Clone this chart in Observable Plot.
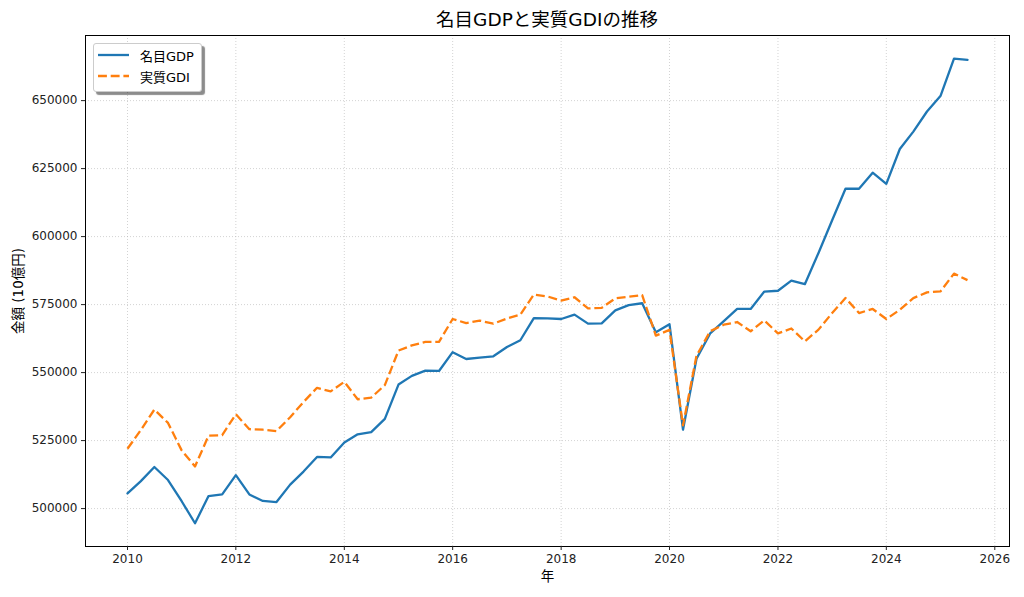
<!DOCTYPE html>
<html>
<head>
<meta charset="utf-8">
<script src="https://cdn.jsdelivr.net/npm/d3@7"></script>
<script src="https://cdn.jsdelivr.net/npm/@observablehq/plot@0.6"></script>
<style>
  body { margin: 0; background: #fff; font-family: "DejaVu Sans", "Noto Sans CJK JP", sans-serif; }
  #wrap { position: relative; width: 1024px; height: 597px; overflow: hidden; }
  #title { height: 30px; line-height: 30px; box-sizing: border-box; padding-left: 85px; padding-right: 15px;
           text-align: center; font-size: 18.5px; color: #000; }
  #title span { position: relative; top: 5px; }
  #legend { position: absolute; left: 93px; top: 43px; width: 109px; height: 49px; box-sizing: border-box;
            background: #fff; border: 1px solid #cccccc; border-radius: 3px; box-shadow: 3px 3px 1px rgba(0,0,0,0.45);
            font-size: 13px; color: #000; }
  .item { position: absolute; left: 4px; height: 20px; display: flex; align-items: center; }
  .item svg { margin-right: 10px; }
</style>
</head>
<body>
<div id="wrap">
  <div id="title"><span>名目GDPと実質GDIの推移</span></div>
  <div id="chart"></div>
  <div id="legend"></div>
</div>
<script>
// ---- data ----
const quarters = [
  "2010-01-01","2010-04-01","2010-07-01","2010-10-01",
  "2011-01-01","2011-04-01","2011-07-01","2011-10-01",
  "2012-01-01","2012-04-01","2012-07-01","2012-10-01",
  "2013-01-01","2013-04-01","2013-07-01","2013-10-01",
  "2014-01-01","2014-04-01","2014-07-01","2014-10-01",
  "2015-01-01","2015-04-01","2015-07-01","2015-10-01",
  "2016-01-01","2016-04-01","2016-07-01","2016-10-01",
  "2017-01-01","2017-04-01","2017-07-01","2017-10-01",
  "2018-01-01","2018-04-01","2018-07-01","2018-10-01",
  "2019-01-01","2019-04-01","2019-07-01","2019-10-01",
  "2020-01-01","2020-04-01","2020-07-01","2020-10-01",
  "2021-01-01","2021-04-01","2021-07-01","2021-10-01",
  "2022-01-01","2022-04-01","2022-07-01","2022-10-01",
  "2023-01-01","2023-04-01","2023-07-01","2023-10-01",
  "2024-01-01","2024-04-01","2024-07-01","2024-10-01",
  "2025-01-01","2025-04-01","2025-07-01"
];
const nominalGDP = [
  505600, 510100, 515300, 510500,
  502700, 494600, 504600, 505200,
  512300, 505200, 502800, 502400,
  508800, 513600, 519000, 518800,
  524300, 527300, 528100, 533000,
  545600, 548800, 550700, 550600,
  557500, 555000, 555500, 556000,
  559400, 561900, 570000, 569900,
  569700, 571300, 568000, 568100,
  572900, 574800, 575500, 564800,
  567800, 529000, 555100, 564400,
  568900, 573400, 573400, 579800,
  580100, 583800, 582500, 594000,
  606000, 617600, 617600, 623500,
  619400, 632200, 638600, 646000,
  651800, 665400, 665000
];
const realGDI = [
  522000, 528900, 536400, 531500,
  521400, 515500, 526800, 527000,
  534700, 529200, 529000, 528500,
  533600, 539200, 544400, 543100,
  546600, 540200, 540800, 545400,
  558100, 560000, 561300, 561300,
  569700, 568200, 569100, 568000,
  569900, 571300, 578700, 578000,
  576500, 577700, 573600, 573800,
  577300, 577900, 578500, 563600,
  565700, 530600, 556200, 565200,
  567600, 568600, 565200, 569200,
  564400, 566200, 561500, 565800,
  571900, 577400, 571900, 573400,
  569700, 573100, 577400, 579500,
  579900, 586400, 584000
];
const seriesNames = ["名目GDP", "実質GDI"];
const seriesColors = ["#1f77b4", "#ff7f0e"];
const tickYears = [2010, 2012, 2014, 2016, 2018, 2020, 2022, 2024, 2026];
const yTicks = [500000, 525000, 550000, 575000, 600000, 625000, 650000];
const xLabel = "年";
const yLabel = "金額 (10億円)";

// ---- build ----
const parse = d3.utcParse("%Y-%m-%d");
const data = quarters.map((q, i) => ({date: parse(q), gdp: nominalGDP[i], gdi: realGDI[i]}));
const t0 = +data[0].date, t1 = +data[data.length - 1].date;
const span = t1 - t0;
const xDomain = [new Date(t0 - span * 0.05), new Date(t1 + span * 0.05)];
const [ymin, ymax] = d3.extent(nominalGDP.concat(realGDI));
const yr = ymax - ymin;
const yDomain = [ymin - 0.05 * yr, ymax + 0.05 * yr];
const xTicks = tickYears.map(y => new Date(Date.UTC(y, 0, 1)));
const dash = "8.9,3.8";
const gridStyle = {stroke: "#b0b0b0", strokeOpacity: 0.7, strokeWidth: 0.8, strokeDasharray: "1,2"};

const chart = Plot.plot({
  width: 1024,
  height: 567,
  marginTop: 5,
  marginBottom: 51,
  marginLeft: 85,
  marginRight: 15,
  style: {fontFamily: '"DejaVu Sans", "Noto Sans CJK JP", sans-serif', fontSize: "12px", color: "#222", background: "#fff"},
  x: {type: "utc", domain: xDomain},
  y: {domain: yDomain},
  marks: [
    Plot.gridX(xTicks, gridStyle),
    Plot.gridY(yTicks, gridStyle),
    Plot.lineY(data, {x: "date", y: "gdp", stroke: seriesColors[0], strokeWidth: 2.3}),
    Plot.lineY(data, {x: "date", y: "gdi", stroke: seriesColors[1], strokeWidth: 2.3, strokeDasharray: dash, strokeLinecap: "butt"}),
    Plot.frame({stroke: "#000", strokeWidth: 1}),
    Plot.axisX(xTicks, {tickFormat: d3.utcFormat("%Y"), tickSize: 4, tickPadding: 4, fontSize: 12, label: null}),
    Plot.axisY(yTicks, {tickFormat: d => String(d), tickSize: 4, tickPadding: 4, fontSize: 12, label: null}),
    Plot.text([xLabel], {frameAnchor: "bottom", lineAnchor: "middle", textAnchor: "middle", dy: 30, fontSize: 13.5, fill: "#000"}),
    Plot.text([yLabel], {frameAnchor: "left", textAnchor: "middle", lineAnchor: "middle", dx: -67, rotate: -90, fontSize: 13.5, fill: "#000"})
  ]
});
document.getElementById("chart").appendChild(chart);

// ---- legend ----
const legend = document.getElementById("legend");
seriesNames.forEach((name, i) => {
  const item = document.createElement("div");
  item.className = "item";
  item.style.top = (1 + i * 21) + "px";
  const sw = `<svg width="32" height="6"><line x1="0" y1="3" x2="31" y2="3" stroke="${seriesColors[i]}" stroke-width="2.3" ${i === 1 ? `stroke-dasharray="${dash}"` : ""}/></svg>`;
  item.innerHTML = sw + `<span>${name}</span>`;
  legend.appendChild(item);
});
</script>
</body>
</html>
